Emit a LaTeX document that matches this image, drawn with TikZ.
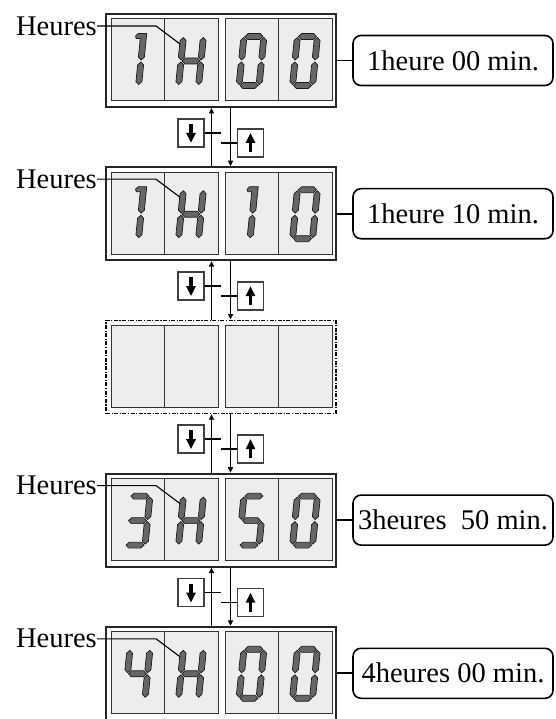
\documentclass[tikz,border=0pt]{standalone}
\usepackage{fontspec}
\setmainfont{Liberation Serif}
\usetikzlibrary{positioning, arrows.meta, calc}
\tikzset{
  panel/.style={draw=black!85, line width=1.9pt, fill=white, minimum width=230pt, minimum height=93pt, inner sep=0pt},
  blank/.style={panel, draw=black, line width=1.6pt, dash pattern=on 4pt off 1.5pt on 1.2pt off 1.5pt},
  cell/.style={draw=black!80, line width=1pt, fill=black!7},
  seg/.style={draw=black!90, line width=0.7pt, fill=black!60},
  lbl/.style={font=\fontsize{28.5}{30}\selectfont, inner sep=0pt},
  val/.style={draw, rounded corners=8pt, line width=1.6pt, minimum width=200pt, minimum height=50pt, font=\fontsize{28.5}{30}\selectfont, inner sep=2pt},
  btn/.style={draw=black!75, line width=1.6pt, fill=white, minimum width=26pt, minimum height=28pt, inner sep=0pt},
  conn/.style={line width=1.8pt},
  updn/.style={line width=1.8pt, -{Triangle[length=5.5pt,width=5pt]}},
  bigarrow/.style={line width=3.4pt, -{Triangle[length=10pt,width=9pt]}}
}
\newcommand{\sega}{(-9,-24.5) -- (-6,-27.5) -- (6,-27.5) -- (9,-24.5) -- (6,-21.5) -- (-6,-21.5) -- cycle}
\newcommand{\segg}{(-9,0) -- (-6,-3) -- (6,-3) -- (9,0) -- (6,3) -- (-6,3) -- cycle}
\newcommand{\segd}{(-9,24.5) -- (-6,21.5) -- (6,21.5) -- (9,24.5) -- (6,27.5) -- (-6,27.5) -- cycle}
\newcommand{\segf}{(-10,-23.5) -- (-7,-20.5) -- (-7,-4) -- (-10,-1) -- (-13,-4) -- (-13,-20.5) -- cycle}
\newcommand{\segb}{(10,-23.5) -- (13,-20.5) -- (13,-4) -- (10,-1) -- (7,-4) -- (7,-20.5) -- cycle}
\newcommand{\sege}{(-10,1) -- (-7,4) -- (-7,20.5) -- (-10,23.5) -- (-13,20.5) -- (-13,4) -- cycle}
\newcommand{\segc}{(10,1) -- (13,4) -- (13,20.5) -- (10,23.5) -- (7,20.5) -- (7,4) -- cycle}
\newcommand{\segj}{(2,-25) -- (4.5,-27.5) -- (13,-27.5) -- (13,-4) -- (10,-1) -- (7,-4) -- (7,-22.5) -- (3,-22.5) -- cycle}
\newcommand{\digit}[3]{%
  \begin{scope}[shift={(#1,#2)}, xslant=0.1]
    \foreach \s in {#3} {\expandafter\let\expandafter\segpath\csname seg\s\endcsname \filldraw[seg] \segpath;}
  \end{scope}}
\newcommand{\cells}[2]{%
  \begin{scope}[shift={(#1,#2)}]
    \draw[cell] (-110,-41.5) rectangle (-3,40.5);
    \draw[cell] (4,-41.5) rectangle (111,40.5);
    \draw[cell] (-57,-41.5) -- (-57,40.5);
    \draw[cell] (57,-41.5) -- (57,40.5);
  \end{scope}}

\begin{document}
\begin{tikzpicture}[x=1pt, y=-1pt]
  \useasboundingbox (0,0) rectangle (555,719);
  \clip (0,0) rectangle (555,719);

  \node[panel] (p1) at (221,60.5) {};
  \node[panel] (p2) at (221,213.7) {};
  \node[blank] (p3) at (221,366.9) {};
  \node[panel] (p4) at (221,520.1) {};
  \node[panel] (p5) at (221,673.3) {};

  \cells{221}{60.5}
  \cells{221}{213.7}
  \cells{221}{366.9}
  \cells{221}{520.1}
  \cells{221}{673.3}

  \digit{131}{61}{j,c}
  \digit{191}{61}{b,c,e,f,g}
  \digit{251.5}{61}{a,b,c,d,e,f}
  \digit{305}{61}{a,b,c,d,e,f}

  \digit{131}{214.2}{j,c}
  \digit{191}{214.2}{b,c,e,f,g}
  \digit{242.5}{214.2}{j,c}
  \digit{305}{214.2}{a,b,c,d,e,f}

  \digit{137.5}{520.6}{a,b,c,d,g}
  \digit{191}{520.6}{b,c,e,f,g}
  \digit{251.5}{520.6}{a,c,d,f,g}
  \digit{305}{520.6}{a,b,c,d,e,f}

  \digit{137.5}{673.8}{b,c,f,g}
  \digit{191}{673.8}{b,c,e,f,g}
  \digit{251.5}{673.8}{a,b,c,d,e,f}
  \digit{305}{673.8}{a,b,c,d,e,f}

  \node[lbl, anchor=east] (hl1) at (97,26) {Heures};
  \node[lbl, anchor=east] (hl2) at (97,179.2) {Heures};
  \node[lbl, anchor=east] (hl4) at (97,485.6) {Heures};
  \node[lbl, anchor=east] (hl5) at (97,638.8) {Heures};
  \coordinate (tip1) at (180,44);
  \coordinate (tip2) at (180,197.2);
  \coordinate (tip4) at (180,503.6);
  \coordinate (tip5) at (180,656.8);
  \draw[line width=1.1pt] (hl1.east) -- ++(59,0) -- (tip1);
  \draw[line width=1.1pt] (hl2.east) -- ++(59,0) -- (tip2);
  \draw[line width=1.1pt] (hl4.east) -- ++(59,0) -- (tip4);
  \draw[line width=1.1pt] (hl5.east) -- ++(59,0) -- (tip5);

  \node[val] (v1) at (453,60.5) {1heure 00 min.};
  \node[val] (v2) at (453,213.7) {1heure 10 min.};
  \node[val] (v4) at (453,520.1) {3heures\ \ 50 min.};
  \node[val] (v5) at (453,673.3) {4heures 00 min.};
  \draw[conn] (p1.east) -- (v1.west);
  \draw[conn] (p2.east) -- (v2.west);
  \draw[conn] (p4.east) -- (v4.west);
  \draw[conn] (p5.east) -- (v5.west);

  \foreach \a/\b in {1/2,2/3,3/4,4/5} {
    \draw[updn] ([xshift=-9.5pt]p\b.north) -- ([xshift=-9.5pt]p\a.south);
    \draw[updn] ([xshift=9.5pt]p\a.south) -- ([xshift=9.5pt]p\b.north);
    \node[btn] (dn\a) at ($(p\a.south)+(-30,25)$) {};
    \node[btn] (up\a) at ($(p\a.south)+(29.5,35)$) {};
    \draw[conn] (dn\a.east) -- ++(16,0);
    \draw[conn] (up\a.west) -- ++(-16,0);
    \draw[bigarrow] ($(dn\a.center)+(0,-9)$) -- ($(dn\a.center)+(0,10)$);
    \draw[bigarrow] ($(up\a.center)+(0,9)$) -- ($(up\a.center)+(0,-10)$);
  }
\end{tikzpicture}
\end{document}
